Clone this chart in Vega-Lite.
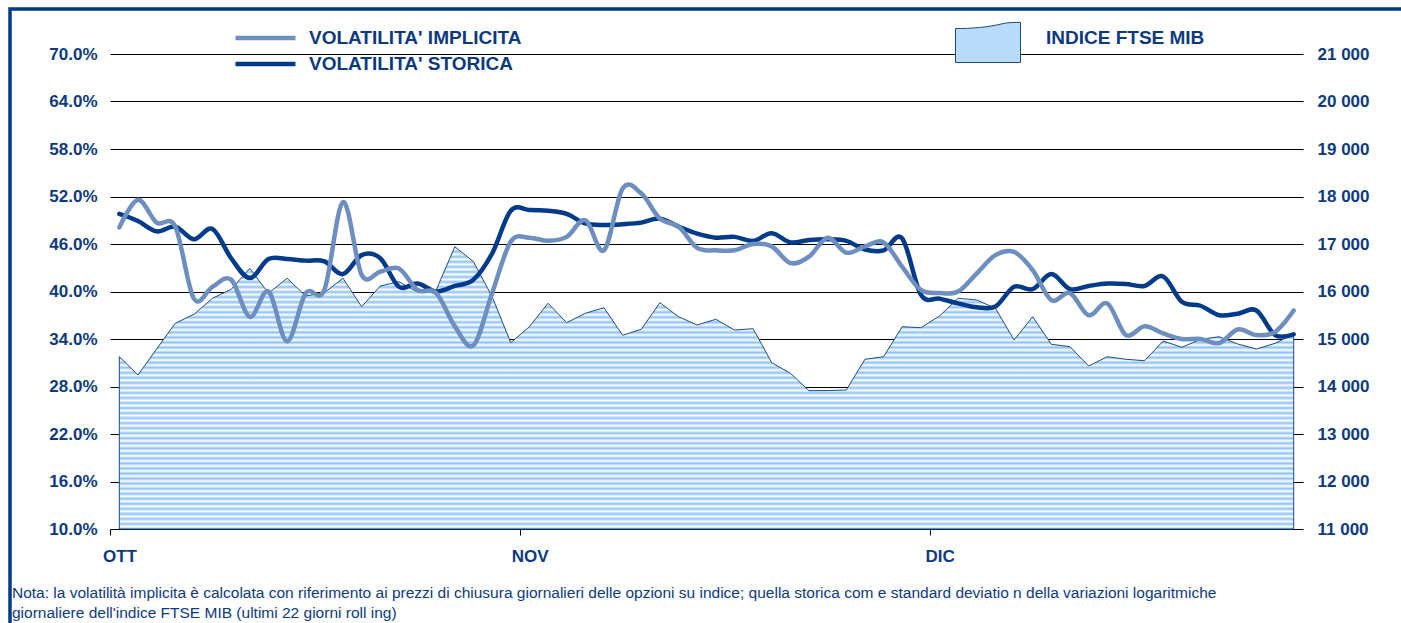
{
  "$schema": "https://vega.github.io/schema/vega-lite/v6.json",
  "width": 1391,
  "height": 614,
  "autosize": {"type": "none"},
  "padding": {"left": 10, "top": 9, "right": 0, "bottom": 0},
  "background": "white",
  "config": {
    "view": {"stroke": "#003A8A", "strokeWidth": 3.5, "strokeDash": [1391, 2005, 614], "strokeCap": "square"},
    "font": "Liberation Sans",
    "axis": {"labelFont": "Liberation Sans", "labelFontSize": 17, "labelFontWeight": "bold", "labelColor": "#0D3A7E", "gridColor": "#000000", "gridOpacity": 1, "gridWidth": 1, "tickColor": "#000000"},
    "legend": {"labelFont": "Liberation Sans", "labelFontSize": 19, "labelFontWeight": "bold", "labelColor": "#0D3A7E", "padding": 0, "labelLimit": 500}
  },
  "title": {
    "text": ["Nota: la volatilità implicita è calcolata con riferimento ai prezzi di chiusura giornalieri delle opzioni su indice; quella storica com e standard deviatio n della variazioni logaritmiche", "giornaliere dell'indice FTSE MIB (ultimi 22 giorni roll ing)"],
    "orient": "bottom", "anchor": "start", "frame": "group", "offset": -37, "dx": 2,
    "fontSize": 15.5, "fontWeight": "normal", "font": "Liberation Sans", "color": "#0D3A7E", "lineHeight": 20, "limit": 1400
  },
  "data": {"values": [
    {"i": 0, "ftse": 14627, "impl": 48.1, "stor": 49.8},
    {"i": 1, "ftse": 14242, "impl": 51.6, "stor": 48.9},
    {"i": 2, "ftse": 14789, "impl": 48.7, "stor": 47.6},
    {"i": 3, "ftse": 15331, "impl": 48.2, "stor": 48.2},
    {"i": 4, "ftse": 15520, "impl": 39.1, "stor": 46.6},
    {"i": 5, "ftse": 15857, "impl": 40.6, "stor": 47.9},
    {"i": 6, "ftse": 16046, "impl": 41.5, "stor": 44.2},
    {"i": 7, "ftse": 16488, "impl": 36.8, "stor": 41.7},
    {"i": 8, "ftse": 15962, "impl": 40.0, "stor": 44.1},
    {"i": 9, "ftse": 16278, "impl": 33.7, "stor": 44.1},
    {"i": 10, "ftse": 15905, "impl": 39.8, "stor": 43.9},
    {"i": 11, "ftse": 15975, "impl": 40.2, "stor": 43.8},
    {"i": 12, "ftse": 16278, "impl": 51.3, "stor": 42.2},
    {"i": 13, "ftse": 15680, "impl": 42.1, "stor": 44.6},
    {"i": 14, "ftse": 16116, "impl": 42.5, "stor": 44.2},
    {"i": 15, "ftse": 16206, "impl": 42.9, "stor": 40.6},
    {"i": 16, "ftse": 15989, "impl": 40.2, "stor": 41.0},
    {"i": 17, "ftse": 16032, "impl": 39.8, "stor": 40.0},
    {"i": 18, "ftse": 16943, "impl": 35.6, "stor": 40.7},
    {"i": 19, "ftse": 16627, "impl": 33.2, "stor": 41.5},
    {"i": 20, "ftse": 15891, "impl": 39.8, "stor": 44.8},
    {"i": 21, "ftse": 14922, "impl": 46.3, "stor": 50.2},
    {"i": 22, "ftse": 15259, "impl": 46.8, "stor": 50.3},
    {"i": 23, "ftse": 15752, "impl": 46.4, "stor": 50.2},
    {"i": 24, "ftse": 15343, "impl": 46.9, "stor": 49.8},
    {"i": 25, "ftse": 15541, "impl": 49.0, "stor": 48.6},
    {"i": 26, "ftse": 15659, "impl": 45.2, "stor": 48.4},
    {"i": 27, "ftse": 15078, "impl": 53.0, "stor": 48.5},
    {"i": 28, "ftse": 15204, "impl": 52.4, "stor": 48.7},
    {"i": 29, "ftse": 15764, "impl": 49.2, "stor": 49.2},
    {"i": 30, "ftse": 15469, "impl": 48.2, "stor": 48.2},
    {"i": 31, "ftse": 15295, "impl": 45.5, "stor": 47.3},
    {"i": 32, "ftse": 15415, "impl": 45.2, "stor": 46.8},
    {"i": 33, "ftse": 15189, "impl": 45.2, "stor": 46.9},
    {"i": 34, "ftse": 15217, "impl": 46.0, "stor": 46.4},
    {"i": 35, "ftse": 14501, "impl": 45.7, "stor": 47.35},
    {"i": 36, "ftse": 14278, "impl": 43.6, "stor": 46.2},
    {"i": 37, "ftse": 13912, "impl": 44.4, "stor": 46.5},
    {"i": 38, "ftse": 13915, "impl": 46.8, "stor": 46.6},
    {"i": 39, "ftse": 13926, "impl": 44.9, "stor": 46.4},
    {"i": 40, "ftse": 14573, "impl": 45.7, "stor": 45.3},
    {"i": 41, "ftse": 14627, "impl": 46.2, "stor": 45.2},
    {"i": 42, "ftse": 15259, "impl": 43.1, "stor": 46.7},
    {"i": 43, "ftse": 15238, "impl": 40.2, "stor": 39.6},
    {"i": 44, "ftse": 15484, "impl": 39.8, "stor": 39.1},
    {"i": 45, "ftse": 15857, "impl": 40.0, "stor": 38.5},
    {"i": 46, "ftse": 15821, "impl": 42.3, "stor": 38.0},
    {"i": 47, "ftse": 15646, "impl": 44.6, "stor": 38.1},
    {"i": 48, "ftse": 14979, "impl": 45.0, "stor": 40.6},
    {"i": 49, "ftse": 15469, "impl": 42.7, "stor": 40.3},
    {"i": 50, "ftse": 14888, "impl": 38.9, "stor": 42.2},
    {"i": 51, "ftse": 14838, "impl": 39.8, "stor": 40.3},
    {"i": 52, "ftse": 14432, "impl": 37.0, "stor": 40.7},
    {"i": 53, "ftse": 14627, "impl": 38.5, "stor": 41.0},
    {"i": 54, "ftse": 14573, "impl": 34.5, "stor": 40.95},
    {"i": 55, "ftse": 14543, "impl": 35.6, "stor": 40.7},
    {"i": 56, "ftse": 14958, "impl": 34.7, "stor": 41.9},
    {"i": 57, "ftse": 14825, "impl": 34.0, "stor": 38.7},
    {"i": 58, "ftse": 14994, "impl": 34.0, "stor": 38.2},
    {"i": 59, "ftse": 15048, "impl": 33.5, "stor": 37.0},
    {"i": 60, "ftse": 14895, "impl": 35.2, "stor": 37.2},
    {"i": 61, "ftse": 14789, "impl": 34.5, "stor": 37.6},
    {"i": 62, "ftse": 14909, "impl": 34.9, "stor": 34.5},
    {"i": 63, "ftse": 15105, "impl": 37.6, "stor": 34.6}
  ]},
  "encoding": {
    "x": {
      "field": "i", "type": "quantitative",
      "scale": {"domain": [-0.5, 63.5], "range": [100, 1293], "nice": false, "zero": false},
      "axis": {
        "orient": "bottom", "offset": -94, "values": [-0.5, 21.5, 43.5],
        "labelExpr": "datum.value < 0 ? 'OTT' : (datum.value < 30 ? 'NOV' : 'DIC')",
        "labelOffset": 9.5, "tickSize": 6, "tickWidth": 1, "domain": false, "grid": false,
        "labelPadding": 13, "labelFlush": false, "labelOverlap": false, "labelBound": false, "title": null
      }
    }
  },
  "layer": [
    {
      "mark": {
        "type": "area", "stroke": "#1B4A8C", "strokeWidth": 1, "interpolate": "linear",
        "fill": {"gradient": "linear", "x1": 0, "y1": 0, "x2": 0, "y2": 1, "stops": [
          {"offset": 0, "color": "#8EC2F6"}, {"offset": 0.0089, "color": "#FFFFFF"}, {"offset": 0.0179, "color": "#8EC2F6"}, {"offset": 0.0268, "color": "#FFFFFF"},
          {"offset": 0.0357, "color": "#8EC2F6"}, {"offset": 0.0446, "color": "#FFFFFF"}, {"offset": 0.0536, "color": "#8EC2F6"}, {"offset": 0.0625, "color": "#FFFFFF"},
          {"offset": 0.0714, "color": "#8EC2F6"}, {"offset": 0.0804, "color": "#FFFFFF"}, {"offset": 0.0893, "color": "#8EC2F6"}, {"offset": 0.0982, "color": "#FFFFFF"},
          {"offset": 0.1071, "color": "#8EC2F6"}, {"offset": 0.1161, "color": "#FFFFFF"}, {"offset": 0.125, "color": "#8EC2F6"}, {"offset": 0.1339, "color": "#FFFFFF"},
          {"offset": 0.1429, "color": "#8EC2F6"}, {"offset": 0.1518, "color": "#FFFFFF"}, {"offset": 0.1607, "color": "#8EC2F6"}, {"offset": 0.1696, "color": "#FFFFFF"},
          {"offset": 0.1786, "color": "#8EC2F6"}, {"offset": 0.1875, "color": "#FFFFFF"}, {"offset": 0.1964, "color": "#8EC2F6"}, {"offset": 0.2054, "color": "#FFFFFF"},
          {"offset": 0.2143, "color": "#8EC2F6"}, {"offset": 0.2232, "color": "#FFFFFF"}, {"offset": 0.2321, "color": "#8EC2F6"}, {"offset": 0.2411, "color": "#FFFFFF"},
          {"offset": 0.25, "color": "#8EC2F6"}, {"offset": 0.2589, "color": "#FFFFFF"}, {"offset": 0.2679, "color": "#8EC2F6"}, {"offset": 0.2768, "color": "#FFFFFF"},
          {"offset": 0.2857, "color": "#8EC2F6"}, {"offset": 0.2946, "color": "#FFFFFF"}, {"offset": 0.3036, "color": "#8EC2F6"}, {"offset": 0.3125, "color": "#FFFFFF"},
          {"offset": 0.3214, "color": "#8EC2F6"}, {"offset": 0.3304, "color": "#FFFFFF"}, {"offset": 0.3393, "color": "#8EC2F6"}, {"offset": 0.3482, "color": "#FFFFFF"},
          {"offset": 0.3571, "color": "#8EC2F6"}, {"offset": 0.3661, "color": "#FFFFFF"}, {"offset": 0.375, "color": "#8EC2F6"}, {"offset": 0.3839, "color": "#FFFFFF"},
          {"offset": 0.3929, "color": "#8EC2F6"}, {"offset": 0.4018, "color": "#FFFFFF"}, {"offset": 0.4107, "color": "#8EC2F6"}, {"offset": 0.4196, "color": "#FFFFFF"},
          {"offset": 0.4286, "color": "#8EC2F6"}, {"offset": 0.4375, "color": "#FFFFFF"}, {"offset": 0.4464, "color": "#8EC2F6"}, {"offset": 0.4554, "color": "#FFFFFF"},
          {"offset": 0.4643, "color": "#8EC2F6"}, {"offset": 0.4732, "color": "#FFFFFF"}, {"offset": 0.4821, "color": "#8EC2F6"}, {"offset": 0.4911, "color": "#FFFFFF"},
          {"offset": 0.5, "color": "#8EC2F6"}, {"offset": 0.5089, "color": "#FFFFFF"}, {"offset": 0.5179, "color": "#8EC2F6"}, {"offset": 0.5268, "color": "#FFFFFF"},
          {"offset": 0.5357, "color": "#8EC2F6"}, {"offset": 0.5446, "color": "#FFFFFF"}, {"offset": 0.5536, "color": "#8EC2F6"}, {"offset": 0.5625, "color": "#FFFFFF"},
          {"offset": 0.5714, "color": "#8EC2F6"}, {"offset": 0.5804, "color": "#FFFFFF"}, {"offset": 0.5893, "color": "#8EC2F6"}, {"offset": 0.5982, "color": "#FFFFFF"},
          {"offset": 0.6071, "color": "#8EC2F6"}, {"offset": 0.6161, "color": "#FFFFFF"}, {"offset": 0.625, "color": "#8EC2F6"}, {"offset": 0.6339, "color": "#FFFFFF"},
          {"offset": 0.6429, "color": "#8EC2F6"}, {"offset": 0.6518, "color": "#FFFFFF"}, {"offset": 0.6607, "color": "#8EC2F6"}, {"offset": 0.6696, "color": "#FFFFFF"},
          {"offset": 0.6786, "color": "#8EC2F6"}, {"offset": 0.6875, "color": "#FFFFFF"}, {"offset": 0.6964, "color": "#8EC2F6"}, {"offset": 0.7054, "color": "#FFFFFF"},
          {"offset": 0.7143, "color": "#8EC2F6"}, {"offset": 0.7232, "color": "#FFFFFF"}, {"offset": 0.7321, "color": "#8EC2F6"}, {"offset": 0.7411, "color": "#FFFFFF"},
          {"offset": 0.75, "color": "#8EC2F6"}, {"offset": 0.7589, "color": "#FFFFFF"}, {"offset": 0.7679, "color": "#8EC2F6"}, {"offset": 0.7768, "color": "#FFFFFF"},
          {"offset": 0.7857, "color": "#8EC2F6"}, {"offset": 0.7946, "color": "#FFFFFF"}, {"offset": 0.8036, "color": "#8EC2F6"}, {"offset": 0.8125, "color": "#FFFFFF"},
          {"offset": 0.8214, "color": "#8EC2F6"}, {"offset": 0.8304, "color": "#FFFFFF"}, {"offset": 0.8393, "color": "#8EC2F6"}, {"offset": 0.8482, "color": "#FFFFFF"},
          {"offset": 0.8571, "color": "#8EC2F6"}, {"offset": 0.8661, "color": "#FFFFFF"}, {"offset": 0.875, "color": "#8EC2F6"}, {"offset": 0.8839, "color": "#FFFFFF"},
          {"offset": 0.8929, "color": "#8EC2F6"}, {"offset": 0.9018, "color": "#FFFFFF"}, {"offset": 0.9107, "color": "#8EC2F6"}, {"offset": 0.9196, "color": "#FFFFFF"},
          {"offset": 0.9286, "color": "#8EC2F6"}, {"offset": 0.9375, "color": "#FFFFFF"}, {"offset": 0.9464, "color": "#8EC2F6"}, {"offset": 0.9554, "color": "#FFFFFF"},
          {"offset": 0.9643, "color": "#8EC2F6"}, {"offset": 0.9732, "color": "#FFFFFF"}, {"offset": 0.9821, "color": "#8EC2F6"}, {"offset": 0.9911, "color": "#FFFFFF"},
          {"offset": 1, "color": "#8EC2F6"}
        ]}
      },
      "encoding": {
        "y": {
          "field": "ftse", "type": "quantitative",
          "scale": {"domain": [11000, 21000], "range": [520, 45], "nice": false, "zero": false},
          "axis": {
            "orient": "right", "offset": -98,
            "values": [11000, 12000, 13000, 14000, 15000, 16000, 17000, 18000, 19000, 20000, 21000],
            "labelExpr": "replace(format(datum.value, ','), ',', ' ')",
            "labelPadding": 14, "ticks": false, "domain": false, "grid": false, "title": null
          }
        },
        "y2": {"datum": 11000}
      }
    },
    {
      "transform": [{"filter": "false"}],
      "mark": {"type": "area", "stroke": "#1B4A8C", "strokeWidth": 1},
      "encoding": {
        "y": {"field": "ftse", "type": "quantitative", "scale": {"domain": [11000, 21000], "range": [520, 45], "nice": false, "zero": false}, "axis": null},
        "fill": {
          "datum": "INDICE FTSE MIB", "type": "nominal",
          "scale": {"domain": ["INDICE FTSE MIB"], "range": ["#BADBFA"]},
          "legend": {
            "orient": "none", "legendX": 945, "legendY": -4, "title": null,
            "symbolType": "M-1,0.754L-1,-0.29C-0.5,-0.29 0,-0.33 0.4,-0.43C0.65,-0.49 0.85,-0.477 1,-0.477L1,0.754Z",
            "symbolSize": 4225, "symbolStrokeColor": "#1B4A8C", "symbolStrokeWidth": 1, "symbolOpacity": 1, "labelOffset": 25
          }
        }
      }
    },
    {
      "transform": [{"fold": ["stor", "impl"], "as": ["serie", "vol"]}],
      "mark": {"type": "line", "interpolate": "cardinal", "strokeWidth": 4.5, "strokeCap": "round", "strokeJoin": "round"},
      "encoding": {
        "y": {
          "field": "vol", "type": "quantitative",
          "scale": {"domain": [10, 70], "range": [520, 45], "nice": false, "zero": false},
          "axis": {
            "orient": "left", "offset": -100, "values": [10, 16, 22, 28, 34, 40, 46, 52, 58, 64, 70],
            "labelExpr": "format(datum.value, '.1f') + '%'",
            "labelPadding": 13, "ticks": false, "domain": false, "grid": true, "title": null
          }
        },
        "color": {
          "field": "serie", "type": "nominal",
          "scale": {"domain": ["impl", "stor"], "range": ["#6D8FBF", "#003A8A"]},
          "legend": {
            "orient": "none", "legendX": 223, "legendY": 16, "title": null,
            "symbolType": "stroke", "symbolSize": 3600, "symbolStrokeWidth": 4.5,
            "labelOffset": 11, "clipHeight": 26, "rowPadding": 0,
            "labelExpr": "datum.value == 'impl' ? \"VOLATILITA' IMPLICITA\" : \"VOLATILITA' STORICA\""
          }
        }
      }
    }
  ],
  "resolve": {"scale": {"y": "independent"}}
}
